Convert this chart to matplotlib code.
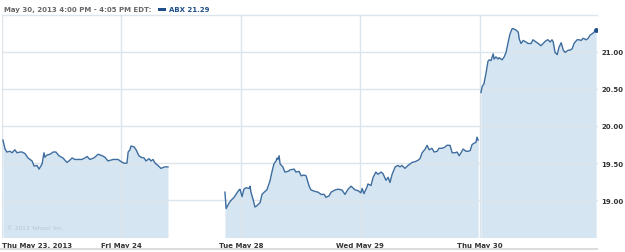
import matplotlib
matplotlib.use("Agg")
import matplotlib.pyplot as plt
import numpy as np

# trading minutes since Thu May 23 open (390 per session), price in USD
seg1_min = [3, 10, 16, 26, 33, 42, 49, 59, 65, 75, 85, 98, 105, 114, 121, 131, 137, 140,
            147, 157, 167, 176, 186, 199, 212, 219, 229, 238, 248, 261, 271, 278, 287, 300,
            314, 327, 336, 346, 363, 379, 389, 398, 408, 412, 418, 421, 431, 438, 447, 454,
            464, 470, 480, 487, 493, 500, 509, 519, 532, 542]
seg1_px = [19.81, 19.69, 19.65, 19.66, 19.64, 19.68, 19.64, 19.65, 19.65, 19.63, 19.57,
           19.53, 19.46, 19.47, 19.42, 19.49, 19.64, 19.58, 19.61, 19.62, 19.65, 19.65,
           19.60, 19.57, 19.51, 19.53, 19.57, 19.55, 19.55, 19.55, 19.57, 19.59, 19.55,
           19.57, 19.62, 19.60, 19.58, 19.53, 19.55, 19.55, 19.52, 19.50, 19.50, 19.65,
           19.68, 19.73, 19.72, 19.68, 19.60, 19.58, 19.57, 19.53, 19.56, 19.53, 19.55,
           19.50, 19.47, 19.43, 19.45, 19.45]

seg2_min = [728, 732, 741, 748, 758, 764, 774, 777, 784, 790, 797, 807, 810, 813, 820, 826,
            833, 843, 849, 859, 865, 875, 882, 888, 895, 898, 901, 905, 908, 917, 924, 934,
            941, 954, 960, 970, 977, 986, 993, 1003, 1009, 1022, 1032, 1042, 1052, 1058,
            1068, 1075, 1088, 1097, 1110, 1120, 1130, 1140, 1153, 1163, 1172, 1176, 1182,
            1192, 1195, 1205, 1212, 1221, 1228, 1238, 1244, 1254, 1261, 1267, 1274, 1284,
            1293, 1300, 1306, 1316, 1326, 1333, 1339, 1349, 1359, 1365, 1372, 1382, 1388,
            1395, 1404, 1411, 1421, 1427, 1437, 1444, 1453, 1463, 1470, 1480, 1486, 1493,
            1499, 1506, 1515, 1522, 1529, 1535, 1542, 1548, 1551, 1555]
seg2_px = [19.11, 18.89, 18.96, 19.00, 19.04, 19.08, 19.14, 19.15, 19.05, 19.15, 19.17,
           19.16, 19.19, 19.11, 19.01, 18.91, 18.93, 18.97, 19.08, 19.12, 19.14, 19.26,
           19.39, 19.49, 19.53, 19.57, 19.55, 19.60, 19.49, 19.45, 19.38, 19.39, 19.41,
           19.42, 19.38, 19.39, 19.33, 19.34, 19.33, 19.19, 19.14, 19.12, 19.11, 19.08,
           19.08, 19.04, 19.06, 19.11, 19.14, 19.15, 19.14, 19.08, 19.15, 19.19, 19.14,
           19.13, 19.10, 19.16, 19.09, 19.18, 19.22, 19.20, 19.31, 19.38, 19.35, 19.38,
           19.36, 19.27, 19.31, 19.24, 19.35, 19.45, 19.47, 19.45, 19.47, 19.43, 19.47,
           19.49, 19.51, 19.52, 19.54, 19.56, 19.64, 19.69, 19.74, 19.68, 19.70, 19.65,
           19.66, 19.70, 19.70, 19.71, 19.74, 19.74, 19.64, 19.64, 19.65, 19.60, 19.64,
           19.69, 19.66, 19.66, 19.67, 19.75, 19.77, 19.78, 19.85, 19.81]

seg3_min = [1564, 1568, 1574, 1581, 1587, 1591, 1597, 1604, 1607, 1613, 1620, 1623, 1633,
            1640, 1646, 1653, 1659, 1666, 1669, 1679, 1686, 1689, 1695, 1702, 1711, 1718,
            1728, 1734, 1744, 1751, 1760, 1767, 1777, 1783, 1790, 1796, 1800, 1806, 1813,
            1819, 1826, 1833, 1839, 1849, 1855, 1862, 1868, 1878, 1885, 1891, 1898, 1908,
            1914, 1920, 1927, 1933, 1940]
seg3_px = [20.45, 20.53, 20.57, 20.72, 20.87, 20.89, 20.88, 20.97, 20.90, 20.93, 20.90,
           20.92, 20.89, 20.93, 20.99, 21.13, 21.24, 21.31, 21.31, 21.29, 21.26, 21.17,
           21.11, 21.15, 21.13, 21.11, 21.11, 21.16, 21.13, 21.11, 21.08, 21.11, 21.15,
           21.16, 21.13, 21.16, 21.13, 20.99, 20.96, 21.06, 21.12, 21.02, 20.99, 21.02,
           21.02, 21.04, 21.11, 21.16, 21.16, 21.15, 21.18, 21.16, 21.18, 21.22, 21.24,
           21.26, 21.29]

day_ticks = [0, 390, 780, 1170, 1560]
day_labels = ["Thu May 23, 2013", "Fri May 24", "Tue May 28", "Wed May 29", "Thu May 30"]
price_levels = [19.0, 19.5, 20.0, 20.5, 21.0, 21.5]
last_price = 21.29

LINE = "#3d6d9f"
FILL = "#d5e5f1"
GRID = "#dde5ec"

fig = plt.figure(figsize=(6.25, 2.53), dpi=100)
ax = fig.add_axes([2 / 625, 14.5 / 253, 595 / 625, 223 / 253])

for t, p in [(seg1_min, seg1_px), (seg2_min, seg2_px), (seg3_min, seg3_px)]:
    ax.fill_between(t, p, 18.5, color=FILL, lw=0, zorder=1)
    ax.plot(t, p, color=LINE, lw=1.0, zorder=3)
ax.plot(seg3_min[-1], last_price, "o", color="#1f4f8a", ms=2.5, zorder=4)

for lv in price_levels:
    ax.axhline(lv, color=GRID, lw=1.0, zorder=2, clip_on=False)
for d in day_ticks:
    ax.axvline(d, color=GRID, lw=1.0, zorder=2)

ax.set_xlim(0, 1943)
ax.set_ylim(18.5, 21.5)
for s in ax.spines.values():
    s.set_visible(False)

ax.yaxis.tick_right()
ax.set_yticks(price_levels[:-1])
ax.set_yticklabels([f"{v:.2f}" for v in price_levels[:-1]])
ax.set_xticks(day_ticks)
ax.set_xticklabels(day_labels)
ax.tick_params(axis="both", length=0, labelsize=5, labelcolor="#333333")
ax.tick_params(axis="y", pad=3)
ax.tick_params(axis="x", pad=3.5)
for lab in ax.get_xticklabels() + ax.get_yticklabels():
    lab.set_fontweight("bold")
ax.get_xticklabels()[0].set_ha("left")

# bottom rule
fig.add_artist(plt.Line2D([0, 597 / 625], [3 / 253, 3 / 253], color="#dddddd", lw=1.5))

# header
fig.text(4 / 625, 1 - 10 / 253, "May 30, 2013 4:00 PM - 4:05 PM EDT:", fontsize=5,
         fontweight="bold", color="#666666", va="center")
fig.add_artist(plt.Rectangle((158 / 625, 1 - 11.5 / 253), 8 / 625, 3 / 253,
                             color="#1f4f8a", lw=0))
fig.text(169 / 625, 1 - 10 / 253, "ABX 21.29", fontsize=5, fontweight="bold",
         color="#1f4f8a", va="center")

ax.text(0.008, 0.04, "\u00a9 2013 Yahoo! Inc.", transform=ax.transAxes, fontsize=4.2,
        color="#b5c7d7", zorder=5)

fig.savefig("out.png", dpi=100)
